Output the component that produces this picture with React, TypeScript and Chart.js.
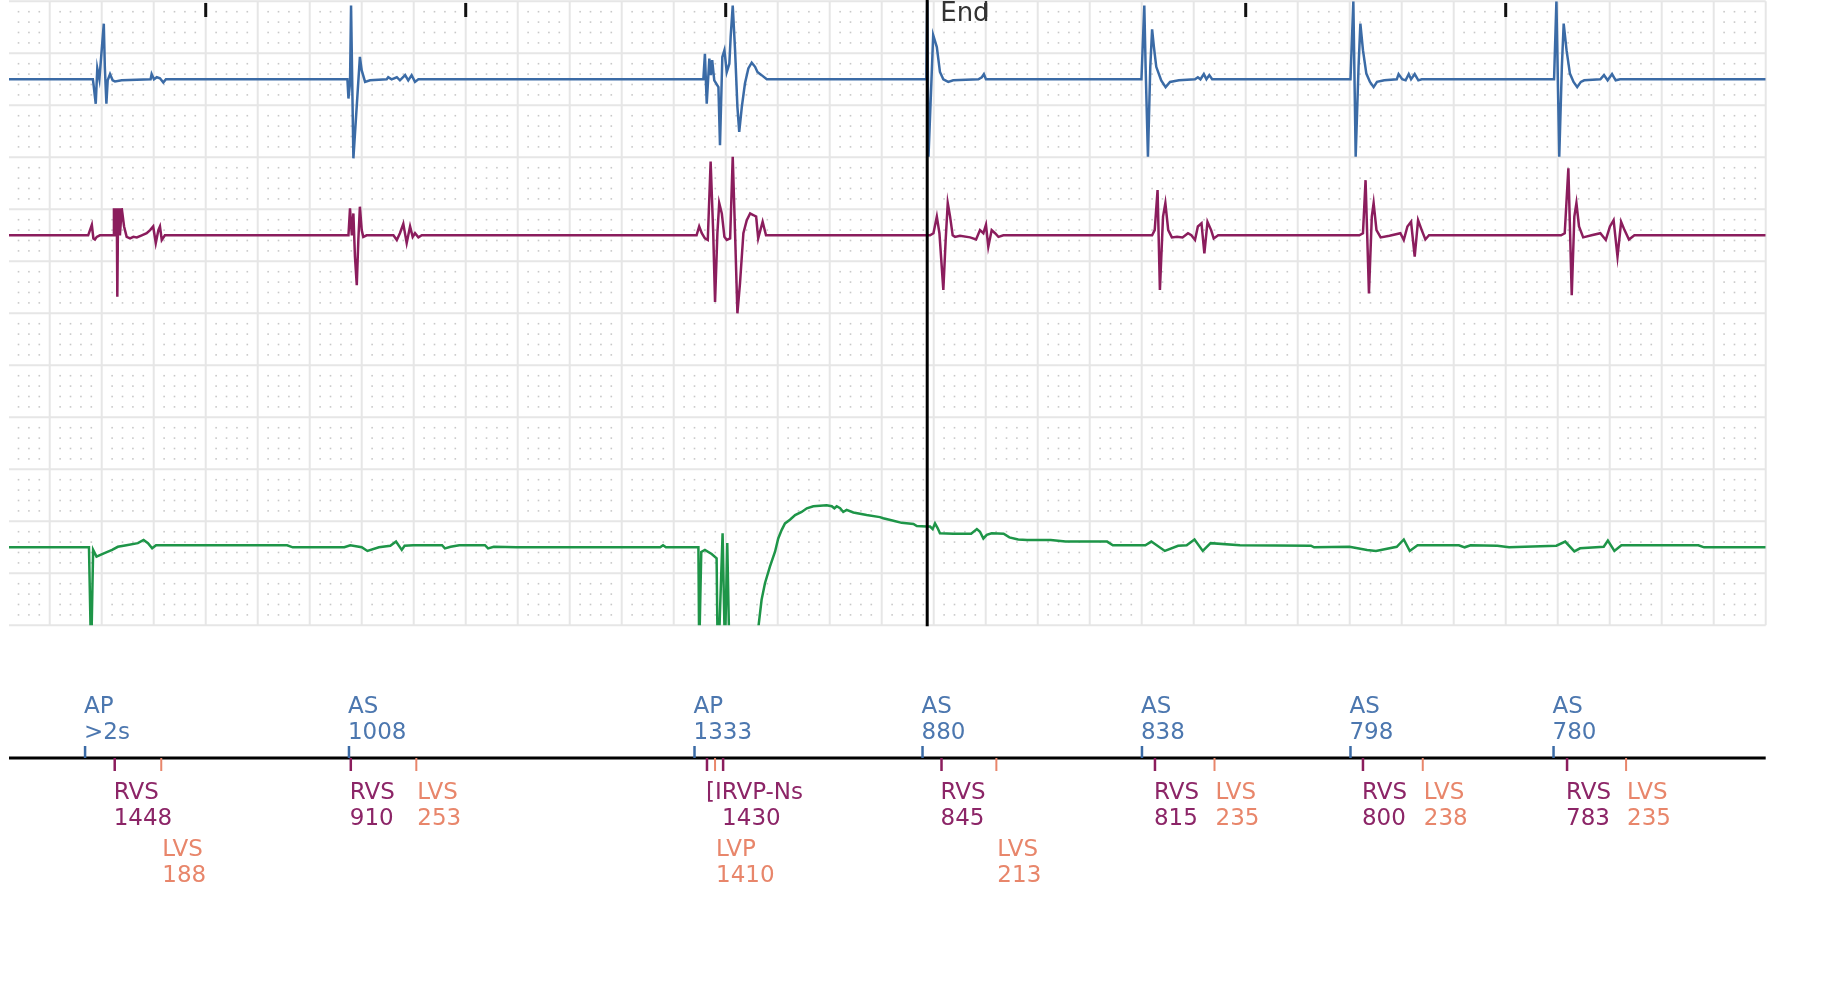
import React, { useEffect, useRef } from "react";
import { Chart, registerables } from "chart.js";

Chart.register(...registerables);

// time window (ms)
const X_MIN = 243.4;
const X_MAX = 7000;
const secondTicks = [1000, 2000, 3000, 4000, 5000, 6000];
const endTime = 3775;
const endLabel = "End";

// atrial channel (blue) : [time ms, amplitude]
const blueTrace: [number, number][] = [
  [243, 0], [566, 0],
  [568, -0.08], [577, -0.47], [583, 0.21], [591, 0], [608, 1.07], [612, 0.23], [618, -0.47], [623, -0.02], [632, 0.1], [642, -0.02], [651, -0.04], [677, -0.02],
  [788, 0], [792, 0.1], [801, 0], [812, 0.04], [824, 0.02], [837, -0.06], [847, 0],
  [1545, 0], [1549, -0.37], [1555, -0.08], [1559, 1.42], [1568, -1.52], [1593, 0.43], [1600, 0.17], [1613, -0.05], [1632, -0.02],
  [1696, 0], [1702, 0.04], [1715, 0], [1735, 0.04], [1747, -0.02], [1767, 0.08], [1779, -0.02], [1792, 0.08], [1805, -0.05], [1818, 0],
  [2914, 0], [2920, 0.49], [2927, -0.47], [2937, 0.4], [2943, 0.08], [2948, 0.37], [2956, -0.02], [2972, -0.15], [2978, -1.27], [2987, 0.43], [2995, 0.56], [3004, 0.14], [3014, 0.3], [3019, 0.81], [3027, 1.42], [3036, 0.56], [3045, -0.53], [3052, -1.01], [3062, -0.53], [3074, -0.08], [3087, 0.21], [3100, 0.32], [3113, 0.24], [3122, 0.14], [3138, 0.08], [3158, 0],
  [3772, 0], [3775, 1.5], [3780, -1.49], [3798, 0.85], [3812, 0.62], [3824, 0.14], [3837, 0], [3856, -0.05], [3875, -0.02], [3972, 0], [3985, 0.04], [3993, 0.1], [4001, 0],
  [4599, 0], [4610, 1.42], [4615, 0.24], [4624, -1.49], [4633, 0.24], [4640, 0.96], [4647, 0.62], [4656, 0.24], [4675, -0.02], [4692, -0.15], [4709, -0.05], [4743, -0.02], [4805, 0], [4816, 0.04], [4826, 0], [4839, 0.1], [4849, 0], [4860, 0.08], [4871, 0],
  [5403, 0], [5414, 1.5], [5423, -1.49], [5434, 0.24], [5441, 1.07], [5451, 0.56], [5464, 0.11], [5478, -0.05], [5492, -0.15], [5505, -0.05], [5533, -0.02], [5581, 0], [5588, 0.1], [5602, 0], [5615, -0.02], [5627, 0.1], [5636, 0], [5650, 0.1], [5664, -0.02], [5677, 0],
  [6186, 0], [6195, 1.5], [6206, -1.49], [6216, 0.24], [6223, 1.07], [6234, 0.56], [6247, 0.11], [6261, -0.05], [6275, -0.15], [6289, -0.05], [6302, -0.02], [6364, 0], [6378, 0.08], [6392, -0.02], [6409, 0.1], [6423, -0.02], [6440, 0],
  [7000, 0],
];

// RV channel (magenta)
const magentaTrace: [number, number][] = [
  [243, 0],
  [548, 0], [562, 0.2], [568, -0.06], [574, -0.08], [581, -0.03], [593, 0],
  [645, 0], [647, 0.52], [650, 0], [652, 0.52], [655, 0], [658, 0.52], [660, -1.18], [663, 0.52], [665, 0], [668, 0.52], [670, 0], [677, 0.52], [686, 0.17], [696, -0.03], [709, -0.06], [722, -0.03], [735, -0.04], [754, 0], [773, 0.04], [786, 0.1], [798, 0.17], [808, -0.15], [818, 0.1], [824, 0.17], [831, -0.09], [843, 0],
  [1549, 0], [1555, 0.52], [1562, 0], [1568, 0.42], [1574, -0.41], [1581, -0.96], [1587, -0.09], [1593, 0.55], [1600, 0.1], [1606, -0.03], [1619, 0],
  [1722, 0], [1735, -0.09], [1747, 0.04], [1760, 0.22], [1773, -0.15], [1786, 0.17], [1796, -0.03], [1805, 0.04], [1818, -0.04], [1831, 0],
  [2888, 0], [2898, 0.17], [2908, 0.04], [2920, -0.06], [2931, -0.09], [2942, 1.42], [2952, 0.04], [2959, -1.28], [2968, 0.04], [2975, 0.62], [2985, 0.42], [2995, -0.03], [3004, -0.09], [3017, -0.06], [3027, 1.51], [3036, 0.04], [3045, -1.5], [3055, -0.92], [3068, 0.04], [3081, 0.29], [3094, 0.42], [3106, 0.39], [3117, 0.36], [3125, -0.06], [3142, 0.26], [3155, 0],
  [3786, 0], [3799, 0.04], [3812, 0.36], [3822, 0.04], [3837, -1.05], [3846, -0.09], [3854, 0.62], [3863, 0.36], [3873, 0], [3882, -0.03], [3901, -0.01], [3940, -0.04], [3963, -0.08], [3978, 0.1], [3991, 0.04], [4001, 0.2], [4010, -0.22], [4023, 0.1], [4036, 0.04], [4049, -0.03], [4068, 0],
  [4640, 0], [4650, 0.1], [4661, 0.87], [4670, -1.05], [4682, 0.36], [4691, 0.62], [4702, 0.1], [4716, -0.04], [4736, -0.03], [4757, -0.04], [4778, 0.04], [4791, 0], [4805, -0.09], [4816, 0.17], [4830, 0.23], [4841, -0.35], [4853, 0.26], [4867, 0.1], [4877, -0.06], [4894, 0],
  [5437, 0], [5451, 0.04], [5461, 1.06], [5474, -1.12], [5485, 0.36], [5492, 0.62], [5503, 0.1], [5519, -0.04], [5553, -0.01], [5595, 0.04], [5608, -0.09], [5622, 0.17], [5636, 0.26], [5650, -0.41], [5663, 0.29], [5677, 0.1], [5691, -0.08], [5705, 0],
  [6213, 0], [6227, 0.04], [6241, 1.29], [6254, -1.15], [6264, 0.36], [6272, 0.62], [6282, 0.17], [6298, -0.04], [6330, 0], [6364, 0.04], [6385, -0.09], [6401, 0.17], [6415, 0.29], [6430, -0.41], [6444, 0.26], [6457, 0.1], [6474, -0.08], [6495, 0],
  [7000, 0],
];

// LV / far-field channel (green)
const greenTrace: [number, number][] = [
  [243, 0], [551, 0], [558, -1.8], [560, -1.9], [567, -0.05], [580, -0.18], [606, -0.12], [640, -0.05], [662, 0.01], [695, 0.04], [739, 0.08], [761, 0.14], [778, 0.08], [794, -0.02], [809, 0.04],
  [1313, 0.04], [1335, 0], [1533, 0], [1556, 0.04], [1600, 0], [1622, -0.07], [1666, 0], [1710, 0.03], [1732, 0.11], [1754, -0.05], [1765, 0.03], [1798, 0.04], [1909, 0.04], [1920, -0.02], [1942, 0.01], [1975, 0.04], [2074, 0.04], [2086, -0.02], [2108, 0.01], [2196, 0],
  [2748, 0], [2759, 0.04], [2770, 0], [2895, 0], [2898, -2], [2906, -0.09], [2920, -0.05], [2946, -0.13], [2965, -0.21], [2969, -2], [2973, -2], [2988, 0.27], [2997, -2], [3006, 0.08], [3014, -2], [3023, -2], [3074, -3],
  [3120, -1.78], [3138, -1.01], [3151, -0.69], [3170, -0.37], [3190, -0.08], [3202, 0.17], [3215, 0.33], [3228, 0.46], [3247, 0.53], [3267, 0.62], [3292, 0.68], [3312, 0.75], [3337, 0.79], [3388, 0.81], [3408, 0.79], [3418, 0.75], [3427, 0.79], [3440, 0.75], [3452, 0.68], [3465, 0.72], [3491, 0.67], [3542, 0.62], [3593, 0.58], [3606, 0.56], [3645, 0.51], [3677, 0.47], [3722, 0.45], [3735, 0.41], [3773, 0.4], [3786, 0.4], [3796, 0.35], [3805, 0.46], [3815, 0.37], [3824, 0.27],
  [3875, 0.26], [3944, 0.26], [3966, 0.35], [3978, 0.3], [3991, 0.17], [4004, 0.24], [4023, 0.27], [4069, 0.26], [4091, 0.19], [4125, 0.15], [4159, 0.14], [4250, 0.14], [4307, 0.11], [4467, 0.11], [4489, 0.04],
  [4614, 0.04], [4637, 0.11], [4689, -0.07], [4740, 0.03], [4773, 0.04], [4803, 0.15], [4835, -0.07], [4865, 0.08], [4978, 0.04], [5251, 0.03], [5263, 0],
  [5399, 0.01], [5467, -0.05], [5501, -0.07], [5581, 0.01], [5608, 0.15], [5631, -0.07], [5661, 0.04], [5820, 0.04], [5842, 0], [5865, 0.04], [5968, 0.03], [6013, 0],
  [6195, 0.03], [6229, 0.11], [6264, -0.08], [6286, -0.02], [6377, 0.01], [6393, 0.13], [6418, -0.07], [6445, 0.04], [6741, 0.04], [6763, 0], [7000, 0],
];

// marker channel
const atrialMarkers = [
  { t: 536, name: "AP", value: ">2s" },
  { t: 1551, name: "AS", value: "1008" },
  { t: 2880, name: "AP", value: "1333" },
  { t: 3757, name: "AS", value: "880" },
  { t: 4601, name: "AS", value: "838" },
  { t: 5403, name: "AS", value: "798" },
  { t: 6184, name: "AS", value: "780" },
];
const rvMarkers = [
  { t: 650, name: "RVS", value: "1448" },
  { t: 1558, name: "RVS", value: "910" },
  { t: 2928, name: "[IRVP-Ns", value: "" },
  { t: 2990, name: "", value: "1430" },
  { t: 3830, name: "RVS", value: "845" },
  { t: 4651, name: "RVS", value: "815" },
  { t: 5451, name: "RVS", value: "800" },
  { t: 6236, name: "RVS", value: "783" },
];
const lvMarkers = [
  { t: 829, name: "LVS", value: "188" },
  { t: 1810, name: "LVS", value: "253" },
  { t: 2959, name: "LVP", value: "1410" },
  { t: 4041, name: "LVS", value: "213" },
  { t: 4880, name: "LVS", value: "235" },
  { t: 5681, name: "LVS", value: "238" },
  { t: 6463, name: "LVS", value: "235" },
];

const BLUE = "#3b6ba6";
const MAGENTA = "#8b1d5d";
const GREEN = "#1e9548";
const BLUE_TXT = "#4c77af";
const MAG_TXT = "#8c2567";
const SALMON = "#e8866b";
const FONT = '23px "DejaVu Sans"';

const gridPlugin = {
  id: "ecgGrid",
  beforeDatasetsDraw(chart: any) {
    const { ctx, scales } = chart;
    const xs = scales.x;
    const yg = scales.yGrid;
    ctx.save();
    // minor dots
    ctx.fillStyle = "#c8c8c8";
    const k0 = Math.ceil(X_MIN / 40);
    const k1 = Math.floor(X_MAX / 40);
    for (let k = k0; k <= k1; k++) {
      if (k % 5 === 0) continue;
      const px = xs.getPixelForValue(k * 40);
      for (let r = 1; r < 60; r++) {
        if (r % 5 === 0) continue;
        const py = yg.getPixelForValue(r / 5);
        ctx.fillRect(px - 0.8, py - 0.8, 1.6, 1.6);
      }
    }
    // major lines
    ctx.strokeStyle = "#e6e6e6";
    ctx.lineWidth = 2;
    ctx.beginPath();
    for (let k = Math.ceil(X_MIN / 200); k <= Math.floor(X_MAX / 200); k++) {
      const px = xs.getPixelForValue(k * 200);
      ctx.moveTo(px, yg.getPixelForValue(12));
      ctx.lineTo(px, yg.getPixelForValue(0));
    }
    for (let r = 0; r <= 12; r++) {
      const py = yg.getPixelForValue(r);
      ctx.moveTo(xs.getPixelForValue(X_MIN), py);
      ctx.lineTo(xs.getPixelForValue(X_MAX), py);
    }
    ctx.stroke();
    ctx.restore();
  },
};

const overlayPlugin = {
  id: "ecgOverlay",
  afterDatasetsDraw(chart: any) {
    const { ctx, chartArea: a, scales } = chart;
    const xs = scales.x;
    const seg = (x1: number, y1: number, x2: number, y2: number) => {
      ctx.beginPath();
      ctx.moveTo(x1, y1);
      ctx.lineTo(x2, y2);
      ctx.stroke();
    };
    ctx.save();
    // one-second ticks
    ctx.strokeStyle = "#111";
    ctx.lineWidth = 3;
    secondTicks.forEach((t) => {
      const px = xs.getPixelForValue(t);
      seg(px, 3, px, 17);
    });
    // End line and label
    const ex = xs.getPixelForValue(endTime);
    ctx.strokeStyle = "#000";
    ctx.lineWidth = 3;
    seg(ex, 0, ex, a.bottom + 1);
    ctx.fillStyle = "#333";
    ctx.font = '26px "DejaVu Sans"';
    ctx.textBaseline = "alphabetic";
    ctx.fillText(endLabel, ex + 13, 21);

    // marker axis
    const axisY = 758;
    ctx.strokeStyle = "#000";
    ctx.lineWidth = 3;
    seg(a.left, axisY, a.right, axisY);

    ctx.font = FONT;
    // atrial markers (above)
    atrialMarkers.forEach((m) => {
      const px = xs.getPixelForValue(m.t);
      ctx.strokeStyle = BLUE;
      ctx.lineWidth = 2.5;
      seg(px, 746, px, axisY);
      ctx.fillStyle = BLUE_TXT;
      ctx.fillText(m.name, px - 1, 713);
      ctx.fillText(m.value, px - 1, 739);
    });
    // RV markers (below, row 1)
    rvMarkers.forEach((m) => {
      const px = xs.getPixelForValue(m.t);
      ctx.strokeStyle = MAGENTA;
      ctx.lineWidth = 2.5;
      seg(px, axisY, px, 771);
      ctx.fillStyle = MAG_TXT;
      if (m.name) ctx.fillText(m.name, px - 1, 799);
      if (m.value) ctx.fillText(m.value, px - 1, 825);
    });
    // LV markers (below, row 1 or row 2 when close to preceding RV event)
    lvMarkers.forEach((m) => {
      const px = xs.getPixelForValue(m.t);
      ctx.strokeStyle = SALMON;
      ctx.lineWidth = 2;
      seg(px, axisY, px, 771);
      const prev = rvMarkers.filter((r) => r.t <= m.t).pop();
      const row2 = prev ? m.t - prev.t < 215 : false;
      const y1 = row2 ? 856 : 799;
      const y2 = row2 ? 882 : 825;
      ctx.fillStyle = SALMON;
      ctx.fillText(m.name, px + 1, y1);
      ctx.fillText(m.value, px + 1, y2);
    });
    ctx.restore();
  },
};

const toXY = (arr: [number, number][]) => arr.map(([t, v]) => ({ x: t, y: v }));

export default function App() {
  const ref = useRef<HTMLCanvasElement | null>(null);
  useEffect(() => {
    if (!ref.current) return;
    const chart = new Chart(ref.current, {
      type: "line",
      data: {
        datasets: [
          { data: toXY(greenTrace), yAxisID: "yGreen", borderColor: GREEN, borderWidth: 2.5, pointRadius: 0, fill: false },
          { data: toXY(magentaTrace), yAxisID: "yMag", borderColor: MAGENTA, borderWidth: 2.5, pointRadius: 0, fill: false },
          { data: toXY(blueTrace), yAxisID: "yBlue", borderColor: BLUE, borderWidth: 2.5, pointRadius: 0, fill: false },
        ] as any,
      },
      options: {
        animation: false,
        responsive: false,
        devicePixelRatio: 1,
        layout: { padding: { left: 9, top: 1.3, right: 61.3, bottom: 381.7 } },
        plugins: { legend: { display: false }, tooltip: { enabled: false } },
        elements: { line: { tension: 0 }, point: { radius: 0 } },
        scales: {
          x: { type: "linear", min: X_MIN, max: X_MAX, display: false },
          yGrid: { type: "linear", min: 0, max: 12, display: false },
          yBlue: { type: "linear", min: -10.5, max: 1.5, display: false },
          yMag: { type: "linear", min: -7.5, max: 4.5, display: false },
          yGreen: { type: "linear", min: -1.5, max: 10.5, display: false },
        },
      } as any,
      plugins: [gridPlugin, overlayPlugin],
    });
    return () => chart.destroy();
  }, []);
  return (
    <div style={{ position: "absolute", left: 0, top: 0, width: 1827, height: 1007, background: "#fff" }}>
      <canvas ref={ref} width={1827} height={1007} style={{ display: "block" }} />
    </div>
  );
}
